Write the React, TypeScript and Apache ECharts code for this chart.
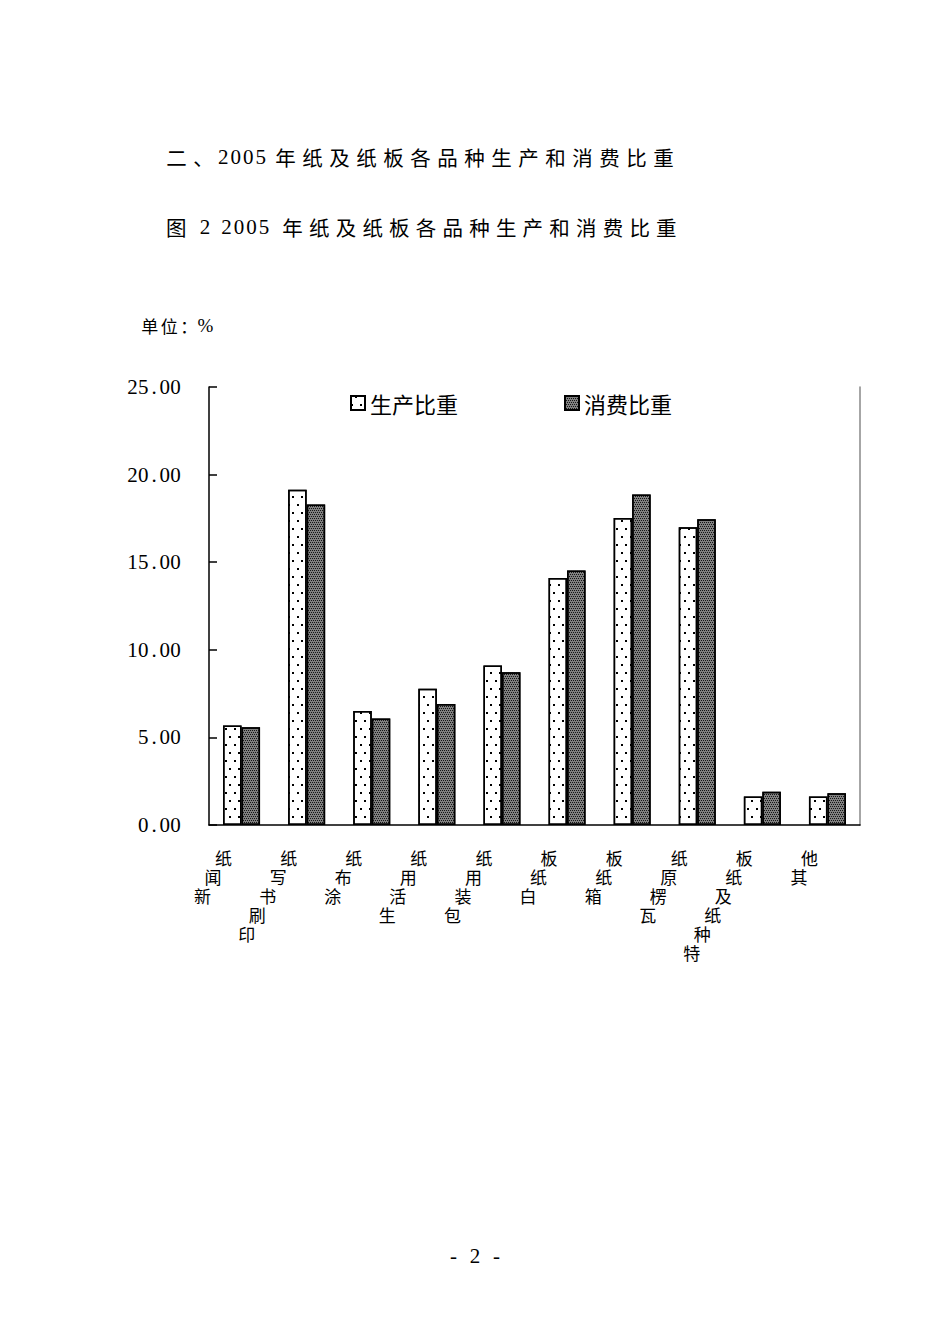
import { useEffect, useRef } from 'react'
import * as echarts from 'echarts'

// 2005 paper & board: production vs consumption share (%)
const categories = ['新闻纸', '印刷书写纸', '涂布纸', '生活用纸', '包装用纸', '白纸板', '箱纸板', '瓦楞原纸', '特种纸及纸板', '其他']
const production = [5.68, 19.14, 6.51, 7.77, 9.1, 14.1, 17.52, 16.99, 1.62, 1.62]
const consumption = [5.58, 18.29, 6.08, 6.91, 8.72, 14.53, 18.86, 17.45, 1.9, 1.81]
const seriesNames = ['生产比重', '消费比重']
const heading = '二、2005 年纸及纸板各品种生产和消费比重'
const figTitle = '图 2 2005 年纸及纸板各品种生产和消费比重'
const unitText = '单位：%'
const pageNo = '- 2 -'

const CJK = '"Noto Sans CJK SC", sans-serif'
const SERIF = '"Liberation Serif", serif'

// fixed-pitch cells, so text spaces out like the Song face in the scan
const cell = (fontFamily: string, fontSize: number, width: number) =>
  ({ fontFamily, fontSize, width, align: 'center', color: '#000' })
const isHalf = (c: string) => c.charCodeAt(0) < 0x2000
const spaced = (s: string) =>
  s.split('').map((c) => `{${c === ' ' ? 's' : isHalf(c) ? 'h' : 'f'}|${c}}`).join('')

const headRich = { f: cell(CJK, 20.5, 27), h: cell(SERIF, 21, 12.5), s: cell(SERIF, 20, 5) }
const figRich = { f: cell(CJK, 20.5, 26.7), h: cell(SERIF, 21, 12.5), s: cell(SERIF, 20, 9) }
const unitRich = { f: cell(CJK, 17, 19.5), h: cell(SERIF, 19, 14), s: cell(SERIF, 19, 5) }
const numRich = { h: cell(SERIF, 21, 10.8), f: cell(CJK, 18, 21.6), s: cell(SERIF, 21, 10.8) }

// each category char on its own line, stepping left as it goes down
const stairRich: Record<string, any> = {}
for (let k = 0; k < 8; k++) {
  stairRich['l' + k] = {
    fontFamily: CJK, fontSize: 17, lineHeight: 19, color: '#000',
    align: 'right', padding: [0, 9.5 + k * 10.5, 0, 0],
  }
}
const stairLabel = (v: string) =>
  v.split('').reverse().map((c, k) => `{l${k}|${c}}`).join('\n')

export default function App() {
  const ref = useRef<HTMLDivElement>(null)

  useEffect(() => {
    if (!ref.current) return
    const chart = echarts.init(ref.current, undefined, { renderer: 'svg' })
    chart.setOption({
      animation: false,
      backgroundColor: '#fff',
      graphic: [
        { type: 'text', x: 163, y: 157, style: { text: spaced(heading), rich: headRich, verticalAlign: 'middle' } },
        { type: 'text', x: 163, y: 227, style: { text: spaced(figTitle), rich: figRich, verticalAlign: 'middle' } },
        { type: 'text', x: 140, y: 325, style: { text: spaced(unitText), rich: unitRich, verticalAlign: 'middle' } },
        { type: 'text', x: 448, y: 1256, style: { text: spaced(pageNo), rich: numRich, verticalAlign: 'middle' } },
      ],
      legend: {
        left: 345, top: 387, itemWidth: 14, itemHeight: 14, itemGap: 106,
        icon: 'rect',
        textStyle: { fontFamily: CJK, fontSize: 22, color: '#000' },
        data: seriesNames,
      },
      grid: { left: 209, right: 90, top: 387, bottom: 519, outerBoundsMode: 'none' },
      xAxis: {
        type: 'category', data: categories,
        axisLine: { lineStyle: { color: '#000', width: 1.5 } },
        axisTick: { inside: true, length: 7, lineStyle: { color: '#000', width: 1.5 } },
        axisLabel: { interval: 0, margin: 23, align: 'right', formatter: stairLabel, rich: stairRich },
      },
      yAxis: [
        {
          type: 'value', min: 0, max: 25, interval: 5,
          axisLine: { show: true, lineStyle: { color: '#000', width: 1.5 } },
          axisTick: { show: true, inside: true, length: 8, lineStyle: { color: '#000', width: 1.5 } },
          axisLabel: { margin: 28, rich: numRich, formatter: (v: number) => spaced(v.toFixed(2)) },
          splitLine: { show: false },
        },
        {
          type: 'value', min: 0, max: 25, interval: 5, position: 'right',
          axisLine: { show: true, lineStyle: { color: '#888', width: 1.5 } },
          axisTick: { show: false }, axisLabel: { show: false }, splitLine: { show: false },
        },
      ],
      series: [
        {
          name: seriesNames[0], type: 'bar', data: production, barWidth: 18.5, barGap: '0%',
          itemStyle: {
            color: '#fff', borderColor: '#000', borderWidth: 1.5,
            decal: {
              symbol: 'rect', symbolSize: 1, color: '#000', backgroundColor: '#fff',
              dashArrayX: [[1.2, 6.3], [0, 3.7, 1.2, 2.6]], dashArrayY: [1.2, 6],
            },
          },
        },
        {
          name: seriesNames[1], type: 'bar', data: consumption, barWidth: 18.5,
          itemStyle: {
            color: '#808080', borderColor: '#000', borderWidth: 1.5,
            decal: {
              symbol: 'rect', symbolSize: 1, color: '#151515', backgroundColor: '#868686',
              dashArrayX: [[1, 1], [0, 1, 1, 0]], dashArrayY: [1, 1],
            },
          },
        },
      ],
    })
    return () => chart.dispose()
  }, [])

  return <div ref={ref} style={{ position: 'absolute', left: 0, top: 0, width: 950, height: 1344 }} />
}
